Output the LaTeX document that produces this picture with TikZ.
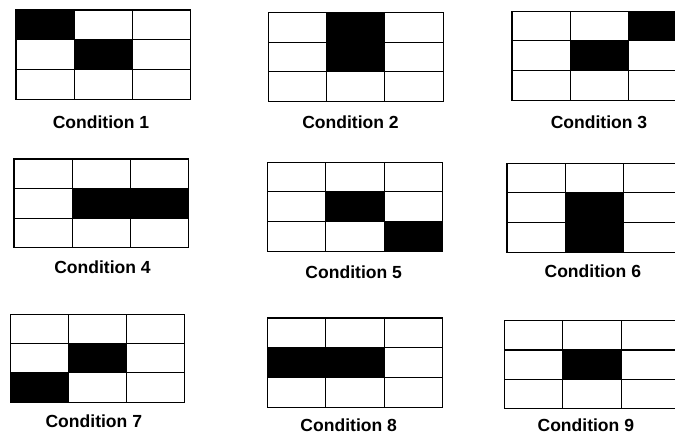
\documentclass[tikz,border=0pt]{standalone}
\usepackage{fontspec}
\setmainfont{Liberation Sans}
\begin{document}
\begin{tikzpicture}[x=1bp,y=-1bp,
  gridline/.style={draw=black,line width=1.1bp},
  blackcell/.style={fill=black},
  condlabel/.style={inner sep=0pt,anchor=center,font=\fontsize{17.6}{20}\selectfont\bfseries}]
\useasboundingbox (0,0) rectangle (675,437);
\clip (0,0) rectangle (675,437);
\fill[white] (0,0) rectangle (675,437);
% #1 x0, #2 y0, #3 cell width, #4 cell height, #5 filled cells col/row
\newcommand{\condgrid}[5]{%
  \begin{scope}[shift={(#1,#2)}]
    \foreach \cc/\rr in {#5} \fill[blackcell] (\cc*#3,\rr*#4) rectangle ++(#3,#4);
    \foreach \cc in {0,1,2} \foreach \rr in {0,1,2}
      \draw[gridline] (\cc*#3,\rr*#4) rectangle ++(#3,#4);
  \end{scope}}
\condgrid{16}{10}{58.3}{29.7}{0/0,1/1}
\condgrid{268.3}{12.3}{58.3}{29.8}{1/0,1/1}
\condgrid{512}{11.3}{58.2}{29.6}{2/0,1/1}
\condgrid{14}{159}{58.3}{29.6}{1/1,2/1}
\condgrid{267.7}{162.3}{58.2}{29.6}{1/1,2/2}
\condgrid{507}{163.3}{58.2}{29.6}{1/1,1/2}
\condgrid{10.3}{314.3}{58.1}{29.3}{1/1,0/2}
\condgrid{267.7}{318}{58.2}{29.7}{0/1,1/1}
\condgrid{504.7}{320.7}{58.2}{29.3}{1/1}
\node[condlabel] (l1) at (101,122) {Condition 1};
\node[condlabel] (l2) at (350.5,122.7) {Condition 2};
\node[condlabel] (l3) at (599,122) {Condition 3};
\node[condlabel] (l4) at (102.5,267.3) {Condition 4};
\node[condlabel] (l5) at (353.7,272.7) {Condition 5};
\node[condlabel] (l6) at (592.8,271.7) {Condition 6};
\node[condlabel] (l7) at (93.8,421.3) {Condition 7};
\node[condlabel] (l8) at (348.7,425.3) {Condition 8};
\node[condlabel] (l9) at (585.8,425.3) {Condition 9};
\end{tikzpicture}
\end{document}
